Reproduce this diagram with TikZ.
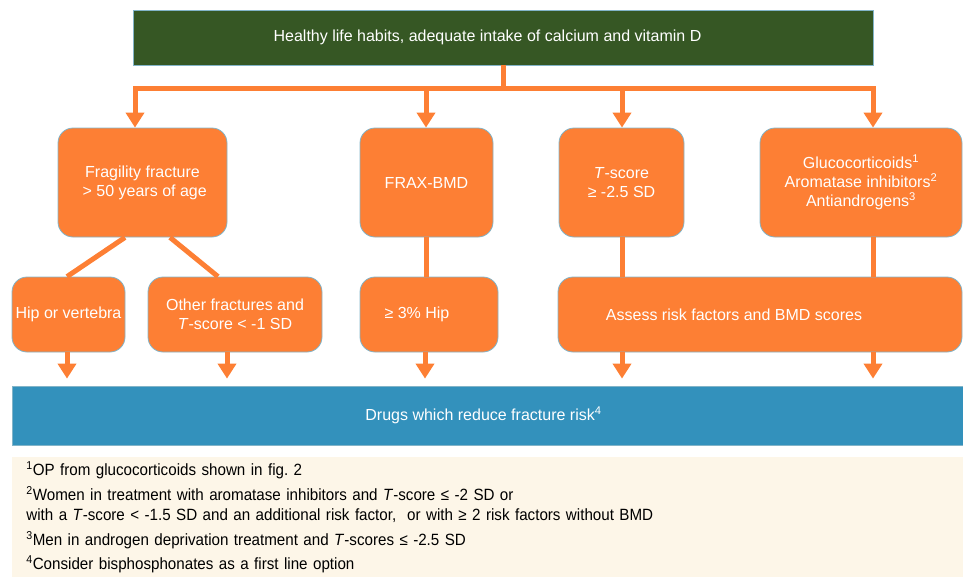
\documentclass[tikz,border=0pt]{standalone}
\usepackage{fontspec}
\setmainfont{Liberation Sans}
\newfontfamily\notefont[FakeStretch=0.93]{Liberation Sans}
\usetikzlibrary{arrows.meta,calc}
\definecolor{green1}{RGB}{54,87,36}
\definecolor{orange1}{RGB}{253,127,52}
\definecolor{blue1}{RGB}{51,145,188}
\definecolor{beige1}{RGB}{253,246,232}
\definecolor{edge1}{RGB}{130,180,200}

\begin{document}
\begin{tikzpicture}[x=1pt,y=-1pt,>={Triangle[width=18pt,length=15pt]},
    box/.style={draw=edge1,line width=0.8pt,fill=orange1,text=white,rounded corners=15pt,align=center,inner sep=0pt,font=\fontsize{16}{19}\selectfont},
    band/.style={draw=edge1,line width=0.8pt,text=white,inner sep=0pt,font=\fontsize{16}{19}\selectfont},
    link/.style={orange1,line width=5pt},
    arr/.style={link,->}]
    \path[use as bounding box] (0,0) rectangle (963,579);
    \node[band,fill=green1,minimum width=740pt,minimum height=55pt] (top) at (503,37.5) {\hspace*{-31pt}Healthy life habits, adequate intake of calcium and vitamin D};
    \node[box,minimum width=169pt,minimum height=109pt] (frac) at (142.5,182.5) {Fragility fracture\\ \ > 50 years of age};
    \node[box,minimum width=133pt,minimum height=109pt] (frax) at (426.5,182.5) {FRAX-BMD};
    \node[box,minimum width=125pt,minimum height=109pt] (tsc) at (621.5,182.5) {\textit{T}-score\\ ≥ -2.5 SD};
    \node[box,minimum width=202pt,minimum height=109pt] (gluco) at (861,182.5) {Glucocorticoids\textsuperscript{1}\\ Aromatase inhibitors\textsuperscript{2}\\ Antiandrogens\textsuperscript{3}};
    \node[box,minimum width=113pt,minimum height=75pt] (hip) at (68.5,314.5) {Hip or vertebra};
    \node[box,minimum width=174pt,minimum height=75pt] (other) at (235,314.5) {Other fractures and\\ \textit{T}-score < -1 SD};
    \node[box,minimum width=138pt,minimum height=75pt] (hip3) at (429,314.5) {\hspace*{-24pt}≥ 3\% Hip};
    \node[box,minimum width=404pt,minimum height=75pt] (assess) at (760,314.5) {\hspace*{-52pt}Assess risk factors and BMD scores};
    \node[band,fill=blue1,minimum width=951pt,minimum height=59pt] (drug) at (487.5,415.5) {\hspace*{-8pt}Drugs which reduce fracture risk\textsuperscript{4}};
    \node[band,draw=none,fill=beige1,text=black,anchor=north west,minimum width=951pt,minimum height=120pt,text width=923pt,inner xsep=14pt,align=left,font=\notefont\fontsize{16.3}{19.5}\selectfont] (notes) at (12,457) {\textsuperscript{1}OP from glucocorticoids shown in fig.\ 2\\[5.5pt]
      \textsuperscript{2}Women in treatment with aromatase inhibitors and \textit{T}-score ≤ -2 SD or\\
      with a \textit{T}-score < -1.5 SD and an additional risk factor,\ \ or with ≥ 2 risk factors without BMD\\[5.5pt]
      \textsuperscript{3}Men in androgen deprivation treatment and \textit{T}-scores ≤ -2.5 SD\\[5pt]
      \textsuperscript{4}Consider bisphosphonates as a first line option};

    \coordinate (j1) at (135,88);
    \coordinate (j2) at (426,88);
    \coordinate (j3) at (622,88);
    \coordinate (j4) at (873,88);
    \draw[link] (top.south) -- (top.south |- j1);
    \draw[link,line cap=rect] (j1) -- (j4);
    \foreach \c/\n in {j1/frac,j2/frax,j3/tsc,j4/gluco}{
      \draw[arr] (\c) -- (\c |- \n.north);
    }
    \draw[link] ([xshift=-17.5pt]frac.south) -- ([xshift=-1.5pt]hip.north);
    \draw[link] ([xshift=27.5pt]frac.south) -- ([xshift=-17pt]other.north);
    \draw[link] (frax.south) -- (frax.south |- hip3.north);
    \draw[link] (tsc.south -| j3) -- (assess.north -| j3);
    \draw[link] (gluco.south -| j4) -- (assess.north -| j4);
    \foreach \n/\s in {hip/-1.5,other/-8,hip3/-4}{
      \draw[arr,shorten >=7pt] ([xshift=\s pt]\n.south) -- ([xshift=\s pt]\n.south |- drug.north);
    }
    \draw[arr,shorten >=7pt] (assess.south -| j3) -- (drug.north -| j3);
    \draw[arr,shorten >=7pt] (assess.south -| j4) -- (drug.north -| j4);

\end{tikzpicture}
\end{document}
